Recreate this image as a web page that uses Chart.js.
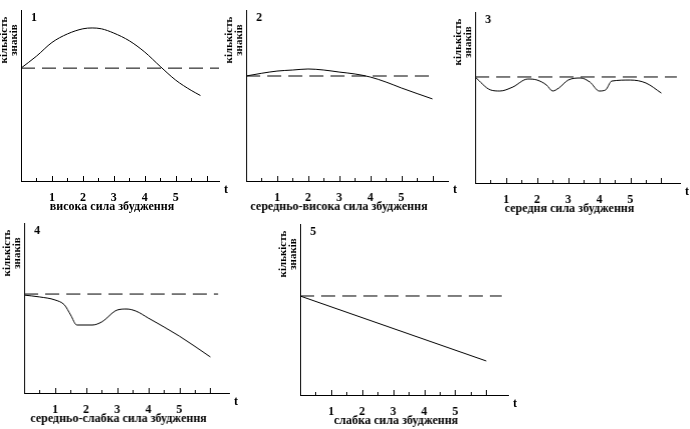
<!DOCTYPE html>
<html>
<head>
<meta charset="utf-8">
<script src="https://cdn.jsdelivr.net/npm/chart.js@4"></script>
<style>
  body { margin: 0; background: #fff; width: 690px; height: 429px; position: relative; overflow: hidden; }
  canvas { position: absolute; }
</style>
</head>
<body>
<canvas id="c1"></canvas>
<canvas id="c2"></canvas>
<canvas id="c3"></canvas>
<canvas id="c4"></canvas>
<canvas id="c5"></canvas>
<script>
'use strict';

// curve points, t on x, count of signs (0..100) on y
var curve1 = [[0,66],[0.5,73],[1,81],[1.5,86],[2,89],[2.3,89.5],[2.6,89],[3,86.5],[3.5,82],[4,75.4],[4.5,67],[5,59],[5.5,53],[5.8,50]];
var curve2 = [[0,61.4],[0.5,63],[1,64.3],[1.5,64.9],[2,65.5],[2.5,64.9],[3,63.7],[3.5,62.6],[4,60.8],[4.5,57.9],[5,54.4],[6,48]];
var curve3 = [[0,62],[0.5,54.4],[0.8,53.8],[1.2,56],[1.7,60.8],[2,60.2],[2.3,57.3],[2.5,53.8],[2.7,55.6],[3,60.2],[3.4,61.4],[3.7,59],[4,53.8],[4.2,54.4],[4.4,59.6],[5,60.2],[5.5,58.5],[6,52.6]];
var curve4 = [[0,57.6],[0.5,56.5],[1,54.7],[1.3,51.8],[1.5,45.9],[1.7,40],[2.2,40],[2.5,41.8],[3,48.8],[3.3,49.4],[3.6,48.2],[4,44.1],[5,33.5],[6,21.2]];
var curve5 = [[0,57.9],[6,19.9]];
var baseLevels = [66, 61.4, 62, 58.2, 57.9];
var baseEnds = [6.4, 6.1, 6.5, 6.25, 6.5];
var axisEnds = [6.4, 6.5, 6.6, 6.6, 6.7];
var panelNums = ['1', '2', '3', '4', '5'];
var xTitles = ['висока сила збудження', 'середньо-висока сила збудження', 'середня сила збудження', 'середньо-слабка сила збудження', 'слабка сила збудження'];
var yTitle = ['кількість', 'знаків'];

// axis origin (left, top, bottom) in page pixels, unit = 31px per t
var frames = [[21,10,181],[246,10,181],[475,12,183],[24,223,393],[300,224,395]];
var UNIT = 31, LEFT = 24, BOTTOM = 36, TOP = 6, RIGHT = 16;
var FONT = 'bold 12px "Liberation Serif", serif';

function pts(a) { return a.map(function (p) { return {x: p[0], y: p[1]}; }); }

var decor = {
  id: 'decor',
  afterDraw: function (chart) {
    var o = chart.options.plugins.decor, ctx = chart.ctx, xs = chart.scales.x, a = chart.chartArea;
    ctx.save();
    ctx.strokeStyle = '#000'; ctx.lineWidth = 1;
    for (var t = 0.5; t <= 6; t += 0.5) {
      var px = Math.round(xs.getPixelForValue(t)) + 0.5;
      ctx.beginPath(); ctx.moveTo(px, a.bottom); ctx.lineTo(px, a.bottom - (t % 1 ? 3 : 5)); ctx.stroke();
    }
    ctx.fillStyle = '#000'; ctx.font = FONT;
    ctx.textBaseline = 'top'; ctx.textAlign = 'left';
    ctx.fillText(o.num, a.left + 10, a.top + 2);
    ctx.fillText('t', a.right + 5, a.bottom + 3);
    ctx.textAlign = 'center';
    ctx.fillText(o.xTitle, (a.left + a.right) / 2 - 8, a.bottom + 20);
    ctx.translate(a.left - 14, a.top + 30);
    ctx.rotate(-Math.PI / 2);
    ctx.font = 'bold 11px "Liberation Serif", serif';
    ctx.textBaseline = 'middle';
    ctx.fillText(yTitle[0], 0, -3);
    ctx.fillText(yTitle[1], 0, 7);
    ctx.restore();
  }
};

[curve1, curve2, curve3, curve4, curve5].forEach(function (curve, i) {
  var f = frames[i], w = axisEnds[i] * UNIT, h = f[2] - f[1];
  var cv = document.getElementById('c' + (i + 1));
  cv.style.left = (f[0] - LEFT) + 'px';
  cv.style.top = (f[1] - TOP) + 'px';
  cv.style.width = (w + LEFT + RIGHT) + 'px';
  cv.style.height = (h + TOP + BOTTOM) + 'px';
  cv.width = w + LEFT + RIGHT; cv.height = h + TOP + BOTTOM;
  new Chart(cv, {
    type: 'line',
    data: {
      datasets: [
        {data: pts(curve), borderColor: '#000', borderWidth: 1, pointRadius: 0, tension: 0.4, cubicInterpolationMode: 'monotone'},
        {data: [{x: 0, y: baseLevels[i]}, {x: baseEnds[i], y: baseLevels[i]}], borderColor: '#000', borderWidth: 1, borderDash: [14, 7], pointRadius: 0}
      ]
    },
    options: {
      responsive: false, animation: false,
      layout: {padding: {top: TOP, right: RIGHT, left: 0, bottom: 0}},
      plugins: {legend: {display: false}, tooltip: {enabled: false}, decor: {num: panelNums[i], xTitle: xTitles[i]}},
      scales: {
        x: {type: 'linear', min: 0, max: axisEnds[i],
            grid: {display: false}, border: {color: '#000', width: 1},
            afterFit: function (s) { s.height = BOTTOM; },
            ticks: {stepSize: 1, padding: 2, color: '#000', font: {family: 'Liberation Serif', weight: 'bold', size: 12},
                    callback: function (v) { return v > 0 && v <= 6 ? v : ''; }}},
        y: {min: 0, max: 100, grid: {display: false}, border: {color: '#000', width: 1},
            ticks: {display: false},
            afterFit: function (s) { s.width = LEFT; }}
      }
    },
    plugins: [decor]
  });
});
</script>
</body>
</html>
